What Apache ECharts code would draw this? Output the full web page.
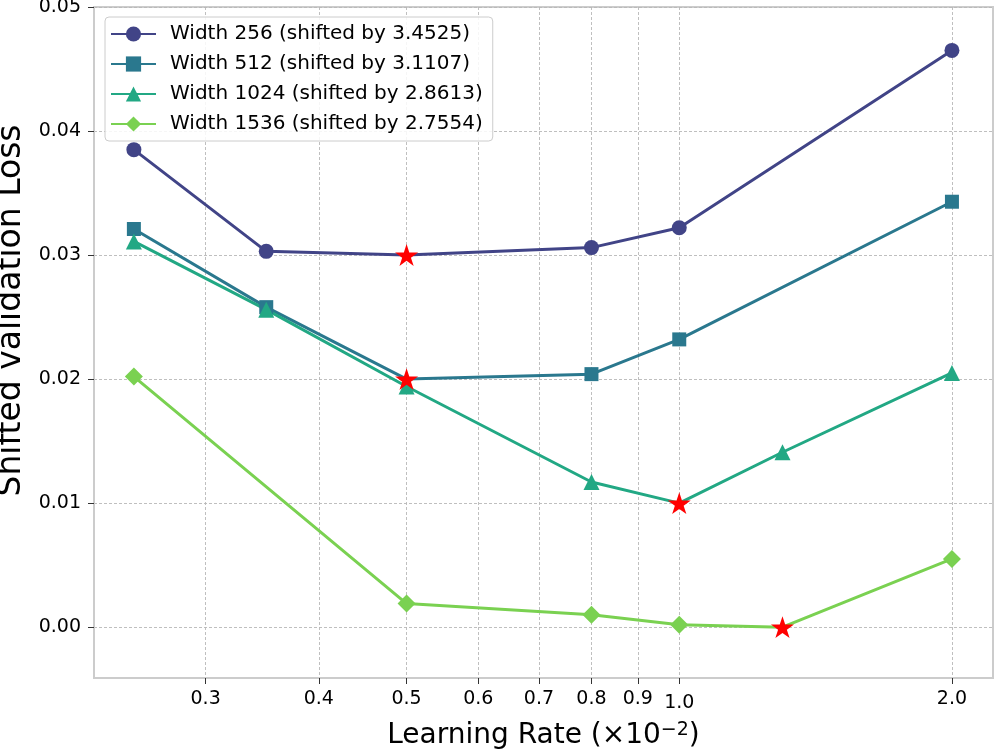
<!DOCTYPE html>
<html>
<head>
    <meta charset="UTF-8">
    <title>Shifted validation loss</title>
    <script src="https://cdn.jsdelivr.net/npm/echarts@6.0.0/dist/echarts.min.js"></script>
</head>
<body style="margin:0">
<div id="main" style="width: 996px;height:751px;"></div>
<script>
    // learning rates (x10^-2) and shifted losses
    var lr256 = [0.25, 0.35, 0.5, 0.8, 1.0, 2.0];
    var loss256 = [0.0385, 0.0303, 0.0300, 0.0306, 0.0322, 0.0465];
    var lr512 = [0.25, 0.35, 0.5, 0.8, 1.0, 2.0];
    var loss512 = [0.0321, 0.0258, 0.0200, 0.0204, 0.0232, 0.0343];
    var lr1024 = [0.25, 0.35, 0.5, 0.8, 1.0, 1.3, 2.0];
    var loss1024 = [0.0311, 0.0256, 0.0194, 0.0117, 0.0100, 0.0141, 0.0205];
    var lr1536 = [0.25, 0.5, 0.8, 1.0, 1.3, 2.0];
    var loss1536 = [0.0202, 0.0019, 0.0010, 0.0002, 0.0000, 0.0055];

    var seriesNames = ['Width 256 (shifted by 3.4525)', 'Width 512 (shifted by 3.1107)',
        'Width 1024 (shifted by 2.8613)', 'Width 1536 (shifted by 2.7554)'];
    var xTicks = [0.3, 0.4, 0.5, 0.6, 0.7, 0.8, 0.9, 1.0, 2.0];
    var yTicks = [0.00, 0.01, 0.02, 0.03, 0.04, 0.05];

    var colors = ['#414487', '#2a788e', '#22a884', '#7ad151'];
    var symbols = ['circle', 'rect', 'triangle', 'diamond'];
    var symbolSizes = [15, 14, 16, 18];
    var starPath = 'path://M100,0 L122.45,69.1 L195.1,69.1 L136.3,111.8 L158.8,180.9 L100,138.2 L41.2,180.9 L63.7,111.8 L4.9,69.1 L77.55,69.1 Z';

    var allLr = [lr256, lr512, lr1024, lr1536];
    var allLoss = [loss256, loss512, loss1024, loss1536];

    var series = [];
    var stars = [];
    for (var i = 0; i < 4; i++) {
        // best learning rate per width -> red star instead of the marker
        var best = 0;
        allLoss[i].forEach(function (v, j) { if (v < allLoss[i][best]) best = j; });
        var pts = allLr[i].map(function (x, j) {
            return j === best ? {value: [x, allLoss[i][j]], symbol: 'none'} : [x, allLoss[i][j]];
        });
        stars.push([allLr[i][best], allLoss[i][best]]);
        series.push({
            name: seriesNames[i],
            type: 'line',
            data: pts,
            symbol: symbols[i],
            symbolSize: symbolSizes[i],
            showAllSymbol: true,
            lineStyle: {width: 3, color: colors[i]},
            itemStyle: {color: colors[i]},
            z: 3
        });
    }
    series.push({
        name: 'best',
        type: 'scatter',
        data: stars,
        symbol: starPath,
        symbolSize: 23,
        symbolKeepAspect: true,
        itemStyle: {color: '#ff0000', opacity: 1},
        z: 5
    });

    var font = 'DejaVu Sans';
    var myChart = echarts.init(document.getElementById('main'));
    myChart.setOption({
        animation: false,
        grid: {left: 94, right: 3, top: 7, bottom: 73, outerBoundsMode: 'none', containLabel: false},
        legend: {
            data: seriesNames,
            orient: 'vertical',
            left: 105,
            top: 17,
            padding: [7, 10, 7, 5],
            itemGap: 10,
            itemWidth: 45,
            itemHeight: 19,
            backgroundColor: 'rgba(255,255,255,0.85)',
            borderColor: '#cccccc',
            borderWidth: 1,
            borderRadius: 4,
            textStyle: {fontFamily: font, fontSize: 20, color: '#000', padding: [0, 0, 0, 9]}
        },
        xAxis: {
            type: 'log',
            logBase: 10,
            min: 0.2259,
            max: 2.22,
            name: 'Learning Rate (×10{sup|−2})',
            nameLocation: 'middle',
            nameGap: 43,
            nameTextStyle: {
                fontFamily: font, fontSize: 28, color: '#000',
                rich: {sup: {fontFamily: font, fontSize: 19, verticalAlign: 'top', padding: [0, 0, 10, 0]}}
            },
            axisLine: {show: true, onZero: false, lineStyle: {color: '#cccccc', width: 2}},
            axisTick: {show: true, length: 6, customValues: xTicks, lineStyle: {color: '#333', width: 1}},
            axisLabel: {
                customValues: xTicks, margin: 12, fontFamily: font, fontSize: 19, color: '#000',
                formatter: function (v) { return v === 1 ? '{low|1.0}' : v.toFixed(1); },
                rich: {low: {fontFamily: font, fontSize: 19, color: '#000', padding: [4, 0, 0, 0]}}
            },
            splitLine: {show: true, lineStyle: {color: '#b8b8b8', type: [3, 2], width: 0.9}}
        },
        yAxis: {
            type: 'value',
            min: -0.0041,
            max: 0.05,
            name: 'Shifted validation Loss',
            nameLocation: 'middle',
            nameGap: 64,
            nameTextStyle: {fontFamily: font, fontSize: 33, color: '#000', padding: [0, 0, 0, 64]},
            axisLine: {show: true, lineStyle: {color: '#cccccc', width: 2}},
            axisTick: {show: true, length: 6, customValues: yTicks, lineStyle: {color: '#333', width: 1}},
            axisLabel: {
                customValues: yTicks, margin: 13, fontFamily: font, fontSize: 19, color: '#000',
                formatter: function (v) { return v.toFixed(2); }
            },
            splitLine: {show: true, lineStyle: {color: '#b8b8b8', type: [3, 2], width: 0.9}}
        },
        series: series,
        graphic: [{
            type: 'rect',
            shape: {x: 94, y: 7, width: 899, height: 671},
            style: {fill: 'none', stroke: '#cccccc', lineWidth: 2},
            silent: true
        }]
    });
</script>
</body>
</html>
